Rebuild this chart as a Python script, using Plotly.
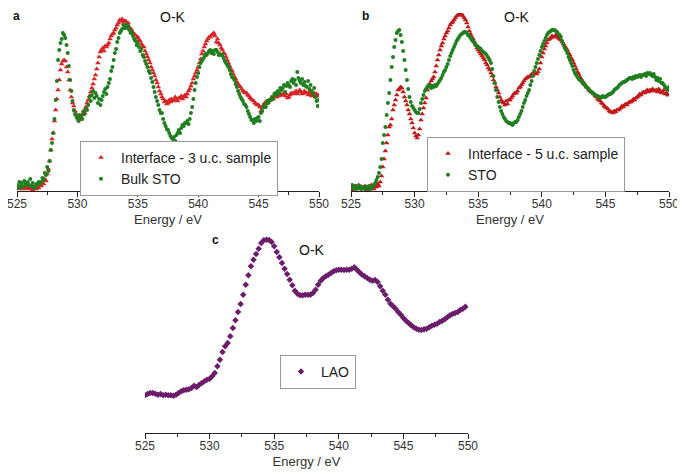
import numpy as np
import plotly.graph_objects as go

# O-K edge spectra, intensity in arbitrary units
energy_ab = np.round(np.arange(525.0, 550.05, 0.1), 1)
energy_c = np.round(np.arange(525.0, 549.85, 0.2), 1)

interface_3uc = [
    3, 5, 2, 4, 6, 3, 2, 5, 4, 3,
    2, 4, 3, 1, 3, 5, 2, 4, 3, 6,
    5, 8, 7, 12, 10, 17, 22, 30, 41, 52,
    58, 70, 81, 92, 101, 111, 121, 127, 130, 131,
    130, 124, 119, 111, 101, 94, 88, 85, 80, 77,
    73, 71, 74, 72, 76, 80, 78, 84, 88, 91,
    95, 99, 103, 107, 112, 116, 122, 128, 134, 139,
    141, 143, 140, 145, 144, 146, 148, 152, 155, 157,
    158, 161, 163, 166, 168, 171, 170, 172, 169, 170,
    170, 167, 168, 164, 162, 161, 158, 157, 156, 153,
    154, 151, 150, 147, 145, 144, 140, 137, 134, 131,
    128, 124, 121, 118, 115, 111, 108, 104, 100, 97,
    94, 92, 89, 90, 87, 88, 91, 89, 92, 90,
    91, 94, 92, 90, 93, 93, 95, 92, 94, 96,
    94, 97, 100, 102, 105, 108, 112, 115, 118, 121,
    124, 128, 132, 137, 140, 144, 147, 150, 152, 154,
    154, 156, 157, 158, 155, 149, 152, 148, 146, 143,
    141, 138, 137, 134, 131, 128, 125, 122, 120, 117,
    114, 112, 109, 107, 105, 104, 102, 100, 99, 98,
    98, 96, 95, 93, 92, 91, 90, 88, 87, 86,
    86, 84, 80, 83, 86, 88, 87, 90, 89, 91,
    91, 93, 92, 95, 94, 94, 96, 95, 97, 96,
    96, 98, 95, 97, 93, 94, 96, 98, 97, 98,
    98, 100, 97, 99, 101, 99, 97, 98, 100, 98,
    98, 96, 99, 97, 95, 96, 98, 94, 97, 95,
    96,
]

bulk_sto = [
    6, 3, 9, 5, 8, 4, 10, 7, 6, 9,
    6, 12, 5, 8, 4, 3, 7, 6, 9, 8,
    9, 13, 11, 18, 16, 24, 20, 30, 41, 48,
    58, 72, 91, 110, 131, 141, 148, 152, 158, 156,
    153, 146, 138, 125, 111, 100, 90, 81, 77, 75,
    73, 70, 76, 74, 72, 79, 77, 82, 81, 86,
    94, 90, 96, 100, 93, 98, 95, 88, 92, 86,
    91, 95, 99, 102, 97, 104, 108, 112, 120, 124,
    131, 138, 142, 149, 153, 158, 160, 162, 166, 163,
    166, 163, 165, 161, 158, 159, 155, 152, 150, 146,
    148, 144, 140, 142, 136, 134, 130, 127, 124, 120,
    118, 113, 109, 104, 99, 94, 90, 86, 81, 78,
    78, 72, 68, 65, 62, 61, 58, 55, 53, 52,
    54, 50, 56, 58, 61, 58, 63, 66, 65, 68,
    68, 70, 67, 72, 78, 84, 92, 101, 108, 114,
    118, 124, 128, 130, 132, 134, 137, 136, 138, 140,
    141, 138, 140, 137, 141, 141, 139, 136, 137, 136,
    136, 133, 130, 128, 126, 124, 121, 117, 114, 113,
    111, 107, 104, 100, 97, 94, 92, 90, 87, 86,
    84, 80, 77, 74, 71, 71, 68, 72, 70, 73,
    74, 70, 78, 80, 84, 86, 84, 90, 88, 91,
    91, 94, 92, 97, 98, 96, 100, 98, 103, 101,
    103, 106, 99, 105, 108, 106, 104, 110, 112, 108,
    111, 106, 119, 113, 110, 108, 112, 106, 109, 105,
    104, 110, 102, 106, 100, 97, 103, 94, 90, 85,
    91,
]

interface_5uc = [
    3, 1, 4, 2, 5, 3, 6, 2, 4, 3,
    2, 5, 3, 1, 4, 2, 6, 3, 2, 5,
    4, 7, 5, 9, 15, 24, 32, 40, 48, 56,
    64, 66, 72, 81, 86, 91, 96, 101, 102, 104,
    103, 99, 94, 90, 86, 81, 77, 72, 68, 63,
    58, 55, 53, 56, 62, 71, 77, 83, 88, 93,
    101, 104, 107, 110, 112, 114, 119, 125, 131, 136,
    141, 145, 148, 152, 155, 158, 160, 163, 166, 168,
    169, 171, 173, 175, 176, 176, 178, 177, 175, 173,
    171, 168, 164, 160, 157, 154, 152, 149, 146, 143,
    141, 139, 137, 135, 133, 131, 128, 126, 123, 121,
    118, 115, 111, 108, 104, 101, 98, 94, 91, 89,
    88, 86, 90, 87, 91, 91, 93, 95, 97, 98,
    98, 100, 103, 104, 106, 108, 110, 112, 113, 114,
    114, 115, 117, 116, 118, 118, 117, 119, 122, 128,
    134, 138, 142, 145, 148, 151, 152, 153, 155, 154,
    154, 156, 155, 153, 152, 151, 149, 147, 145, 143,
    141, 138, 136, 133, 131, 128, 125, 122, 119, 117,
    114, 112, 110, 108, 106, 104, 103, 101, 100, 99,
    98, 97, 95, 94, 92, 91, 90, 88, 87, 85,
    84, 83, 82, 80, 79, 79, 78, 80, 79, 81,
    81, 82, 83, 85, 84, 86, 87, 86, 88, 89,
    89, 90, 92, 91, 93, 94, 95, 97, 96, 98,
    99, 98, 100, 101, 99, 101, 100, 102, 101, 100,
    101, 99, 102, 100, 98, 99, 101, 97, 98, 96,
    96,
]

sto = [
    4, 6, 3, 5, 2, 4, 3, 5, 2, 4,
    3, 2, 4, 3, 5, 2, 3, 4, 6, 8,
    11, 14, 18, 24, 32, 48, 56, 64, 76, 88,
    98, 111, 124, 134, 144, 151, 158, 160, 161, 156,
    149, 140, 131, 121, 111, 102, 94, 89, 85, 83,
    81, 79, 78, 78, 82, 88, 92, 96, 100, 102,
    104, 106, 105, 103, 105, 104, 106, 105, 107, 109,
    111, 113, 116, 119, 121, 124, 127, 131, 135, 138,
    141, 144, 147, 150, 152, 154, 156, 157, 158, 159,
    159, 158, 156, 155, 153, 151, 150, 148, 146, 145,
    144, 143, 142, 140, 139, 138, 137, 135, 133, 131,
    128, 122, 115, 108, 101, 94, 89, 84, 80, 77,
    74, 72, 70, 69, 68, 68, 67, 66, 68, 69,
    69, 71, 74, 77, 80, 84, 88, 91, 95, 98,
    101, 106, 110, 115, 120, 124, 128, 132, 136, 140,
    144, 147, 150, 153, 156, 158, 159, 160, 161, 161,
    161, 160, 159, 157, 156, 154, 150, 147, 143, 141,
    138, 134, 131, 128, 125, 121, 118, 116, 114, 112,
    111, 110, 108, 107, 106, 104, 103, 102, 100, 99,
    98, 97, 96, 95, 95, 94, 93, 94, 95, 94,
    94, 95, 96, 97, 97, 98, 99, 101, 102, 103,
    104, 106, 107, 108, 109, 109, 110, 111, 112, 113,
    113, 112, 114, 113, 115, 114, 115, 116, 114, 116,
    116, 117, 115, 118, 117, 118, 116, 115, 117, 114,
    111, 113, 110, 112, 108, 108, 106, 104, 103, 101,
    104,
]

lao = [
    37.7, 39, 40, 40, 39.3, 38.3, 39, 37.7, 38.3, 37.7,
    37.7, 37.3, 38.3, 40, 41.7, 42.7, 43.3, 43.7, 45, 47.3,
    46, 48.3, 50, 51.7, 53.3, 54.3, 56.7, 60, 66.7, 73.3,
    81, 86.7, 90, 96.7, 105, 112.7, 121, 129, 138.3, 148.3,
    157.7, 166.7, 173.3, 179, 184.3, 190, 192.7, 193.3, 193, 191,
    186.7, 181, 175.7, 170, 164.3, 159, 153.3, 147.7, 142.3, 139.3,
    137.7, 137.7, 138.3, 138.3, 138.3, 140, 143.3, 148.3, 152.3, 155,
    156.7, 158.3, 160, 161.7, 162.7, 163.3, 163.3, 163, 163.3, 163.3,
    164.3, 165.7, 163.3, 160.7, 158.3, 156.7, 155, 153.3, 152.3, 153,
    151, 146.7, 142.3, 138.3, 133.3, 129.3, 126.7, 124.3, 121, 118.3,
    115, 112.3, 110, 107.7, 105.7, 104.3, 103.3, 103, 103.7, 104.3,
    105.7, 107.3, 108.3, 109.3, 111, 112.3, 113.7, 115.7, 117.7, 119,
    120, 121, 123, 124.3, 126.3,
]

# the page body has an 8px margin, so the figure starts at (8, 8) in the window
OFF = 8
W, H = 685 - OFF, 474 - OFF
FONT = "Arial, Liberation Sans, sans-serif"
RED_A = "#d82424"
RED_B = "#c01a1a"
GREEN = "#1f7f1f"
PURPLE = "#6b1d6b"


def px_x(p):
    return (p - OFF) / W


def px_y(p):
    return (H - (p - OFF)) / H


fig = go.Figure()

fig.add_trace(go.Scatter(x=energy_ab, y=interface_3uc, mode="markers", name="Interface - 3 u.c. sample",
                         marker=dict(symbol="triangle-up", size=5, color=RED_A),
                         xaxis="x", yaxis="y", legend="legend"))
fig.add_trace(go.Scatter(x=energy_ab, y=bulk_sto, mode="markers", name="Bulk STO",
                         marker=dict(symbol="circle", size=4, color=GREEN),
                         xaxis="x", yaxis="y", legend="legend"))
fig.add_trace(go.Scatter(x=energy_ab, y=interface_5uc, mode="markers", name="Interface - 5 u.c. sample",
                         marker=dict(symbol="triangle-up", size=5, color=RED_B),
                         xaxis="x2", yaxis="y2", legend="legend2"))
fig.add_trace(go.Scatter(x=energy_ab, y=sto, mode="markers", name="STO",
                         marker=dict(symbol="circle", size=4, color=GREEN),
                         xaxis="x2", yaxis="y2", legend="legend2"))
fig.add_trace(go.Scatter(x=energy_c, y=lao, mode="markers", name="LAO",
                         marker=dict(symbol="diamond", size=5, color=PURPLE),
                         xaxis="x3", yaxis="y3", legend="legend3"))

xaxis_style = dict(range=[525, 550], dtick=5, tick0=525, showline=True, linecolor="#222", linewidth=1,
                   ticks="outside", ticklen=5, tickcolor="#222", showgrid=False, zeroline=False,
                   tickfont=dict(family=FONT, size=12, color="#333"), ticklabeloverflow="allow",
                   ticklabelstandoff=-3,
                   minor=dict(dtick=2.5, ticks="outside", ticklen=3, tickcolor="#222"),
                   title=dict(text="Energy / eV", font=dict(family=FONT, size=13, color="#333"), standoff=4))
yaxis_style = dict(visible=False, showgrid=False, zeroline=False)

top_dom = [px_y(191), px_y(13)]
fig.update_layout(
    width=W, height=H, margin=dict(l=0, r=0, t=0, b=0, autoexpand=False),
    paper_bgcolor="white", plot_bgcolor="white",
    xaxis=dict(domain=[px_x(17), px_x(319)], anchor="y", **xaxis_style),
    yaxis=dict(domain=top_dom, range=[0, 178], anchor="x", **yaxis_style),
    xaxis2=dict(domain=[px_x(351), px_x(669)], anchor="y2", **xaxis_style),
    yaxis2=dict(domain=top_dom, range=[0, 178], anchor="x2", **yaxis_style),
    xaxis3=dict(domain=[px_x(145), px_x(468)], anchor="y3", **xaxis_style),
    yaxis3=dict(domain=[px_y(433), px_y(233)], range=[0, 200], anchor="x3", **yaxis_style),
)

legend_style = dict(xanchor="left", yanchor="top", bgcolor="white", bordercolor="#999", borderwidth=1,
                    font=dict(family=FONT, size=14, color="#222"), tracegroupgap=0)
fig.update_layout(
    legend=dict(x=px_x(80), y=px_y(141), **legend_style),
    legend2=dict(x=px_x(427), y=px_y(137), **legend_style),
    legend3=dict(x=px_x(280), y=px_y(355), **legend_style),
)

# panel letters and edge labels; the top row sits against the top edge
top_labels = [("a", 16, True), ("b", 365, True), ("O-K", 173, False), ("O-K", 517, False)]
for text, x, bold in top_labels:
    fig.add_annotation(text=f"<b>{text}</b>" if bold else text, x=px_x(x), y=1,
                       xref="paper", yref="paper", showarrow=False, xanchor="center", yanchor="top",
                       borderpad=0, font=dict(family=FONT, size=12 if bold else 14, color="#111"))
for text, x, y, bold in [("c", 215, 240, True), ("O-K", 312, 250, False)]:
    fig.add_annotation(text=f"<b>{text}</b>" if bold else text, x=px_x(x), y=px_y(y),
                       xref="paper", yref="paper", showarrow=False, xanchor="center", yanchor="middle",
                       font=dict(family=FONT, size=12 if bold else 14, color="#111"))

fig.write_html("out.html")
